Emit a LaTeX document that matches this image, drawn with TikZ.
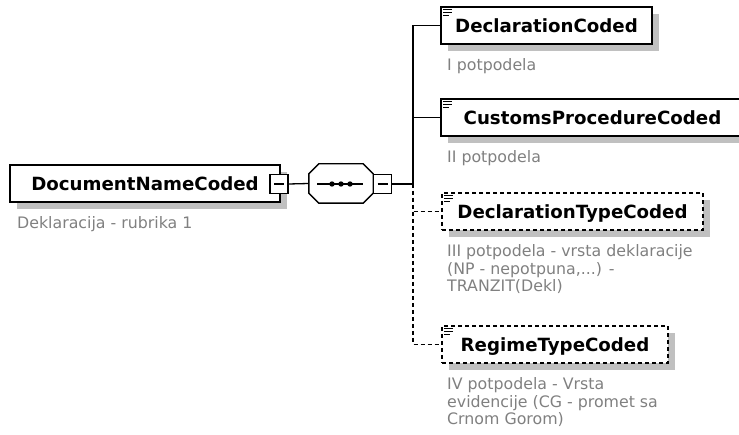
\documentclass[tikz,border=0pt]{standalone}
\usepackage{fontspec}
\setmainfont{DejaVu Sans}
\usetikzlibrary{shadows,calc}
\definecolor{shadowgray}{RGB}{192,192,192}
\definecolor{desccol}{RGB}{128,128,128}
\begin{document}
\begin{tikzpicture}[x=1pt,y=-1pt,
  elbox/.style={draw=black, line width=1.4pt, fill=white, rectangle, inner sep=0pt,
    minimum height=37pt,
    font=\fontsize{18.2}{20}\selectfont\bfseries, text height=13.3pt, text depth=0pt,
    drop shadow={shadow xshift=7pt, shadow yshift=-7pt, fill=shadowgray, opacity=1}},
  optbox/.style={elbox, dash pattern=on 4pt off 3pt},
  minusbox/.style={draw=black, line width=1.3pt, fill=white, rectangle, inner sep=0pt,
    minimum width=18pt, minimum height=19pt,
    path picture={\draw[line width=1.2pt] ([xshift=4pt]path picture bounding box.west) -- ([xshift=-4pt]path picture bounding box.east);}},
  seqbase/.style={rectangle, inner sep=0pt, minimum width=64pt, minimum height=39pt},
  conn/.style={draw=black, line width=1.3pt},
  optconn/.style={conn, dash pattern=on 4pt off 3pt},
  desc/.style={anchor=base west, inner sep=0pt, text=desccol, font=\fontsize{15.8}{17.5}\selectfont},
  icon/.style={line width=1.3pt, black}
]
\useasboundingbox (0,0) rectangle (739,435);

% root element
\node[elbox, minimum width=270pt] (doc) at (145,183.5) {DocumentNameCoded\hspace{8pt}};
\node[minusbox] (docminus) at (279,184) {};
\node[desc] (d0) at (17,229) {Deklaracija - rubrika 1};

% sequence compositor
\node[seqbase] (seq) at (341,183.5) {};
\begin{scope}[shift={(7,7)}]
  \fill[shadowgray] ($(seq.north west)+(10,0)$) -- ($(seq.north east)+(-10,0)$) -- ($(seq.north east)+(0,10)$) -- ($(seq.south east)+(0,-10)$) -- ($(seq.south east)+(-10,0)$) -- ($(seq.south west)+(10,0)$) -- ($(seq.south west)+(0,-10)$) -- ($(seq.north west)+(0,10)$) -- cycle;
\end{scope}
\draw[fill=white, line width=1.4pt] ($(seq.north west)+(10,0)$) -- ($(seq.north east)+(-10,0)$) -- ($(seq.north east)+(0,10)$) -- ($(seq.south east)+(0,-10)$) -- ($(seq.south east)+(-10,0)$) -- ($(seq.south west)+(10,0)$) -- ($(seq.south west)+(0,-10)$) -- ($(seq.north west)+(0,10)$) -- cycle;
\draw[line width=1.3pt] ($(seq.center)+(-24,0.5)$) -- ($(seq.center)+(22,0.5)$);
\foreach \dx in {-9,0,9} \fill ($(seq.center)+(\dx,0.5)$) circle (2.7pt);
\node[minusbox] (seqminus) at (382.5,184) {};

% children
\node[elbox, minimum width=211pt] (c1) at (546.5,25.5) {DeclarationCoded};
\node[elbox, minimum width=303pt] (c2) at (592.5,117.5) {CustomsProcedureCoded};
\node[optbox, minimum width=261pt] (c3) at (572.5,211.5) {DeclarationTypeCoded};
\node[optbox, minimum width=226pt] (c4) at (555,344.5) {RegimeTypeCoded};

\foreach \n in {c1,c2,c3,c4} {
  \draw[icon] ($(\n.north west)+(3,3)$) -- ++(9,0);
  \draw[icon] ($(\n.north west)+(3,6)$) -- ++(9,0);
  \draw[icon] ($(\n.north west)+(3,9)$) -- ++(6,0);
}

\node[desc] (d1) at (447,71) {I potpodela};
\node[desc] (d2) at (447,163) {II potpodela};
\node[desc] (d3) at (447,257) {\parbox[t]{280pt}{\raggedright III potpodela - vrsta deklaracije\\(NP - nepotpuna,...) -\\TRANZIT(Dekl)}};
\node[desc] (d4) at (447,390) {\parbox[t]{280pt}{\raggedright IV potpodela - Vrsta\\evidencije (CG - promet sa\\Crnom Gorom)}};

% connectors
\coordinate (junction) at (413,184);
\draw[conn] (docminus.east) -- (seq.west);
\draw[conn] (seqminus.east) -- (junction);
\draw[conn] (junction) |- (c1.west);
\draw[conn] (junction) |- (c2.west);
\draw[optconn] (junction) |- (c3.west);
\draw[optconn] (junction) |- (c4.west);
\end{tikzpicture}
\end{document}
